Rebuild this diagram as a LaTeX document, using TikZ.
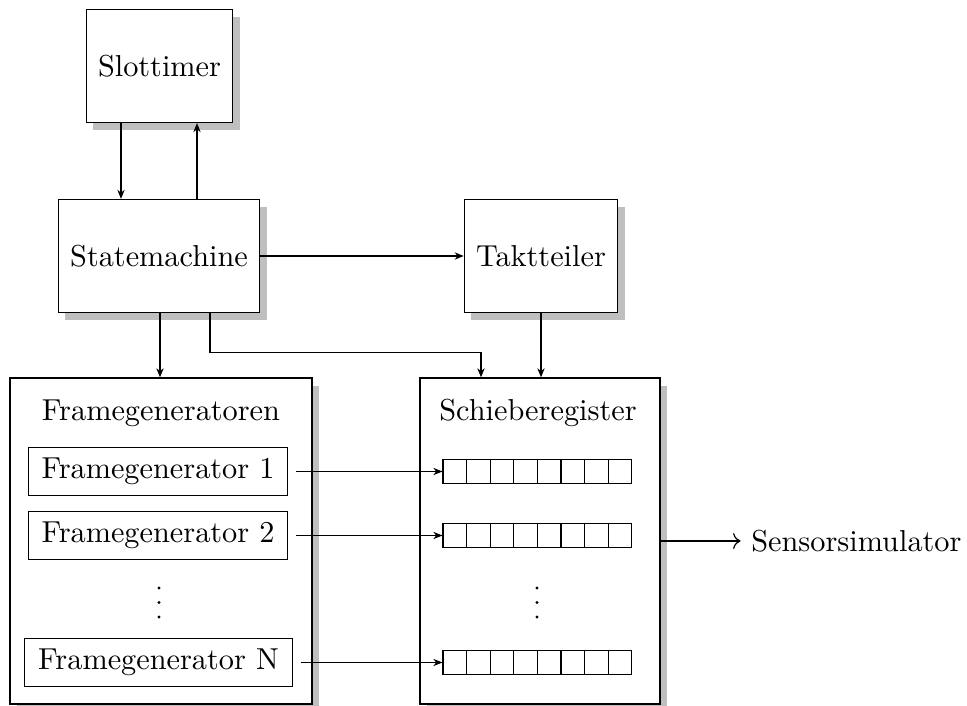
\documentclass[tikz,border=0pt]{standalone}
\usetikzlibrary{arrows.meta,shadows,calc}
\begin{document}
\begin{tikzpicture}[x=0.33pt,y=-0.33pt,
  >={Stealth[length=3pt,width=2.4pt]},
  shadowed/.style={drop shadow={shadow xshift=2.3pt,shadow yshift=-2.5pt,fill=black!25,opacity=1}},
  block/.style={draw,fill=white,shadowed,minimum height=37.3pt,inner xsep=3.9pt},
  group/.style={draw,fill=white,shadowed,minimum height=107.6pt},
  fgbox/.style={draw,fill=white,inner xsep=4.4pt,minimum height=16pt},
  cell/.style={draw,minimum size=7.79pt,inner sep=0pt},
  label/.style={inner sep=0pt},
  dot/.style={circle,fill=black,inner sep=0pt,minimum size=1.1pt}
]
\useasboundingbox (0,0) rectangle (967,706);

% upper blocks
\node[block] (st) at (159.5,66) {Slottimer};
\node[block] (sm) at (159,256) {Statemachine};
\node[block] (tt) at (541,256) {Taktteiler};

% lower groups
\node[group,minimum width=99.7pt] (fg) at (161,541) {};
\node[group,minimum width=79.2pt] (sr) at (540,541) {};
\node[label] (fgl) at (161,413) {Framegeneratoren};
\node[label] (srl) at (538,413) {Schieberegister};

% frame generators
\node[fgbox] (fg1) at (158,471.5) {Framegenerator 1};
\node[fgbox] (fg2) at (158,535.5) {Framegenerator 2};
\node[fgbox] (fgn) at (158.5,662.5) {Framegenerator N};

% vertical ellipses
\foreach \k/\y in {1/588,2/602.5,3/617} {
  \node[dot] (fgd\k) at (159,\y) {};
  \node[dot] (srd\k) at (537,\y) {};
}

% shift register cells
\foreach \r/\y in {1/471.5,2/535.5,3/662.5}
  \foreach \c in {1,...,8}
    \node[cell] (c\r-\c) at ({443+23.6*(\c-0.5)},\y) {};

% connectors between blocks
\coordinate (a1) at ($(st.south)+(-38.5,0)$);
\coordinate (a2) at ($(st.south)+(37.5,0)$);
\draw[->] (a1) -- (a1 |- sm.north);
\draw[->] (a2 |- sm.north) -- (a2);
\draw[->] (sm.east) -- (tt.west);
\coordinate (b1) at ($(sm.south)+(1,0)$);
\draw[->] (b1) -- (b1 |- fg.north);
\coordinate (b2) at ($(sm.south)+(51,0)$);
\coordinate (b3) at ($(sr.north)+(-59,0)$);
\draw[->] (b2) -- ++(0,39) -| (b3);
\draw[->] (tt.south) -- (tt.south |- sr.north);

% frame generators into the shift registers
\draw[->] ([xshift=2.6pt]fg1.east) -- (c1-1.west);
\draw[->] ([xshift=2.6pt]fg2.east) -- (c2-1.west);
\draw[->] ([xshift=2.6pt]fgn.east) -- (c3-1.west);

% output
\node[anchor=west] (sens) at ($(sr.east)+(80,0)$) {Sensorsimulator};
\draw[-{To}] (sr.east) -- (sens.west);
\end{tikzpicture}
\end{document}
